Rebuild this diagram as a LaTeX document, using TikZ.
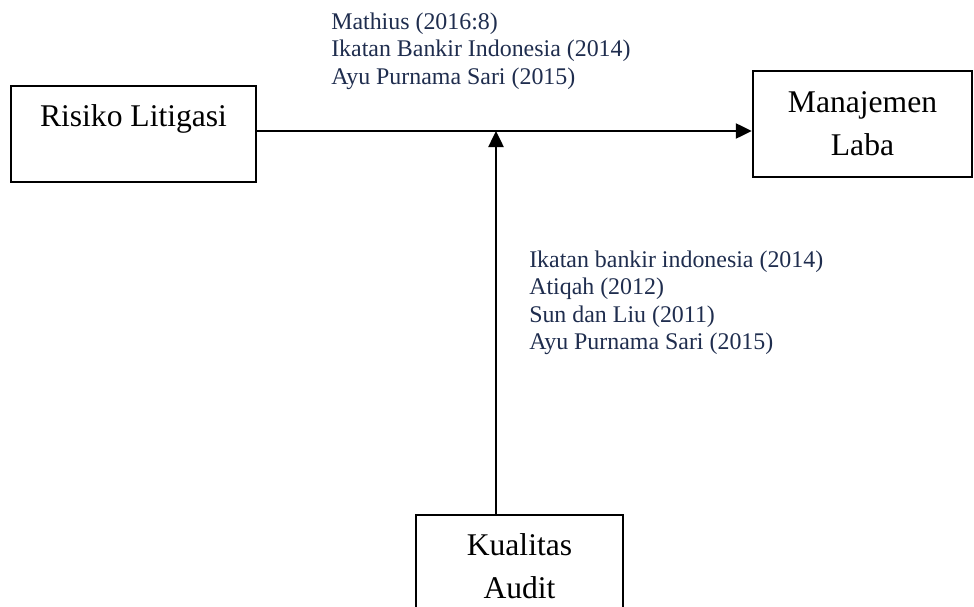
\documentclass[tikz,border=0pt]{standalone}
\usepackage{fontspec}
\setmainfont{Liberation Serif}
\usetikzlibrary{arrows.meta}
\definecolor{refnavy}{HTML}{1F2D4E}

\begin{document}
\begin{tikzpicture}[x=1pt, y=-1pt, >={Triangle[length=16pt, width=15pt]}, line width=2.5pt]
  \tikzset{
    box/.style={draw, rectangle, align=center, inner sep=0pt, font=\fontsize{31.6}{43}\selectfont},
    source/.style={anchor=base west, align=left, inner sep=0pt, text=refnavy, font=\fontsize{23.9}{27.5}\selectfont}
  };
  \useasboundingbox (0, 0) rectangle (974, 607);
  \clip (0, 0) rectangle (974, 607);
  \node[box, minimum width=245pt, minimum height=96pt, text depth=36pt] (risiko) at (133.5, 134) {Risiko Litigasi};
  \node[box, minimum width=219pt, minimum height=106pt] (manajemen) at (862.5, 124) {Manajemen\\Laba};
  \node[box, minimum width=207pt, minimum height=102pt] (kualitas) at (519.5, 566) {Kualitas\\Audit};
  \coordinate (junction) at (496, 131);
  \draw[->] (risiko.east |- junction) -- (junction -| manajemen.west);
  \draw[->] (kualitas.north -| junction) -- (junction);
  % base anchor sits on the last line
  \node[source] (refstop) at (330, 84.5) {Mathius (2016:8)\\Ikatan Bankir Indonesia (2014)\\Ayu Purnama Sari (2015)};
  \node[source] (refsbottom) at (528, 349.5) {Ikatan bankir indonesia (2014)\\Atiqah (2012)\\Sun dan Liu (2011)\\Ayu Purnama Sari (2015)};
\end{tikzpicture}
\end{document}
